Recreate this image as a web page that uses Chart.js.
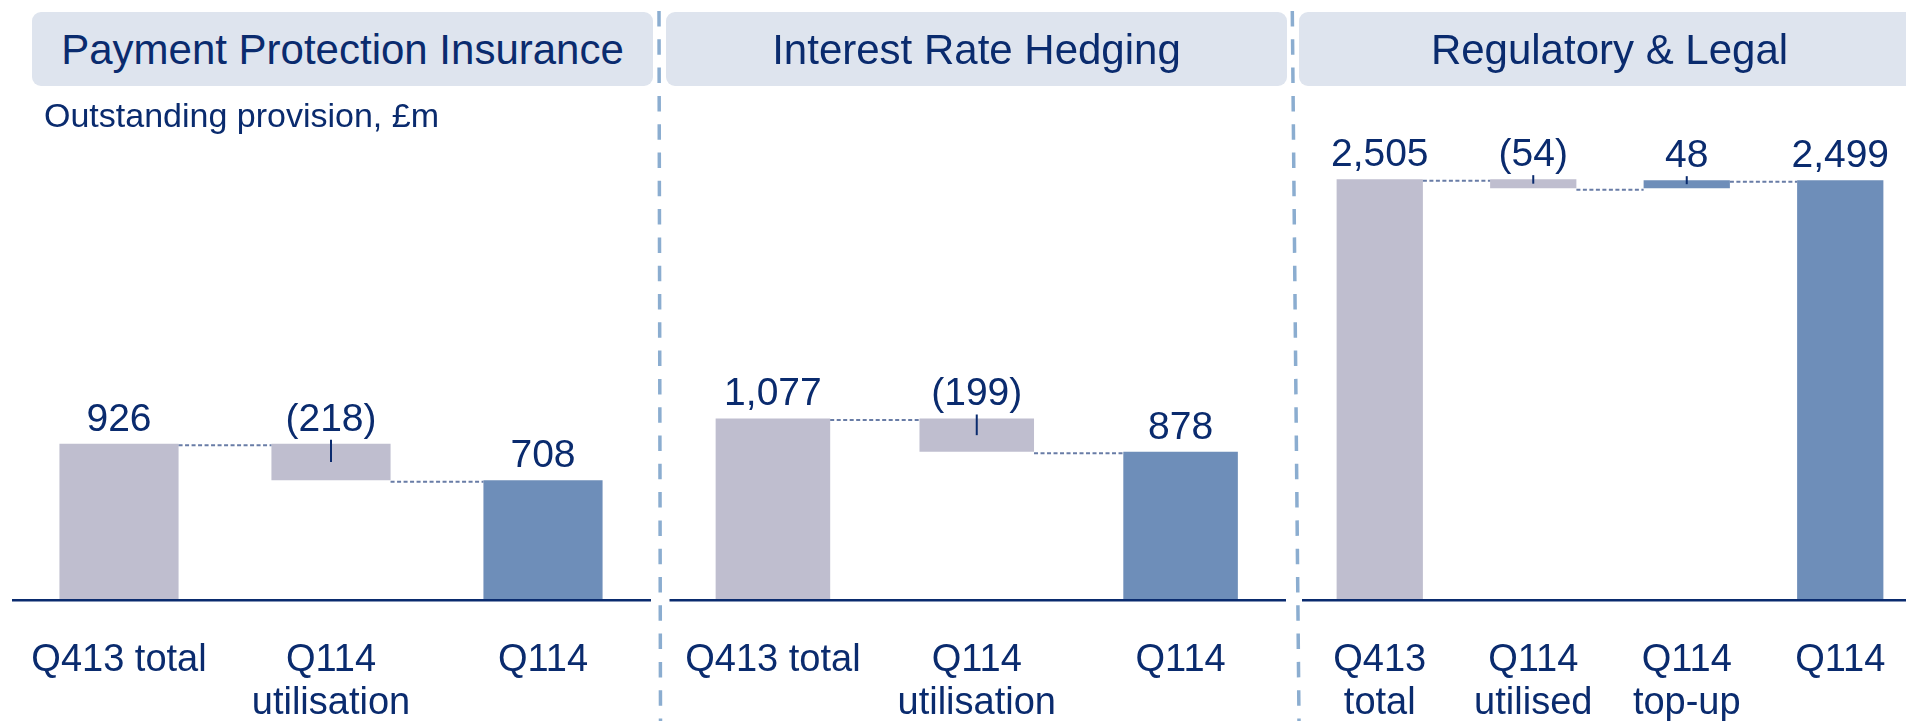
<!DOCTYPE html>
<html><head><meta charset="utf-8">
<script src="https://cdn.jsdelivr.net/npm/chart.js@4.4.1/dist/chart.umd.min.js"></script>
<style>
html,body{margin:0;padding:0;width:1906px;height:721px;overflow:hidden;background:#fff;font-family:"Liberation Sans",Arial,sans-serif;}
.hdr{position:absolute;top:12px;height:74px;width:621px;background:#dee4ee;border-radius:9px;color:#0a2b6e;font-size:42px;line-height:76px;text-align:center;white-space:nowrap;z-index:2;}
canvas{position:absolute;top:0;}
.sub{position:absolute;left:44px;top:98px;font-size:34px;line-height:34px;color:#0a2b6e;white-space:nowrap;z-index:2;}
svg.seps{position:absolute;left:0;top:0;z-index:3;pointer-events:none;}
</style></head>
<body>
<canvas id="c1"></canvas>
<canvas id="c2"></canvas>
<canvas id="c3"></canvas>
<div class="hdr" style="left:32px">Payment Protection Insurance</div>
<div class="hdr" style="left:666px">Interest Rate Hedging</div>
<div class="hdr" style="left:1299px">Regulatory &amp; Legal</div>
<div class="sub">Outstanding provision, £m</div>
<svg class="seps" width="1906" height="721" viewBox="0 0 1906 721">
  <line x1="659" y1="11" x2="660.5" y2="721" stroke="#8badd0" stroke-width="3.5" stroke-dasharray="15.5 12.8"/>
  <line x1="1292.3" y1="11" x2="1299" y2="721" stroke="#8badd0" stroke-width="3.5" stroke-dasharray="15.5 12.8"/>
</svg>
<script>
// ---- data ----
const ppiCategories = ['Q413 total', ['Q114', 'utilisation'], 'Q114'];
const ppiValues = [926, -218, 708];
const ppiKinds = ['total', 'change', 'total'];

const irhCategories = ['Q413 total', ['Q114', 'utilisation'], 'Q114'];
const irhValues = [1077, -199, 878];
const irhKinds = ['total', 'change', 'total'];

const rlCategories = [['Q413', 'total'], ['Q114', 'utilised'], ['Q114', 'top-up'], 'Q114'];
const rlValues = [2505, -54, 48, 2499];
const rlKinds = ['total', 'change', 'change', 'total'];

// ---- styles ----
const NAVY = '#0a2b6e', GREY = '#bfbecf', BLUE = '#6e8eb9', LINK = '#687ca6';
const FONT = '"Liberation Sans", Arial, sans-serif';
const Y_MAX = 3574;
const CANVAS_H = 760;

function toRanges(values, kinds) {
  let run = 0;
  return values.map((v, i) => {
    if (kinds[i] === 'total') { run = v; return [0, v]; }
    const r = [run, run + v]; run += v; return r;
  });
}
function barColor(v, k, i) {
  if (k === 'total') return i === 0 ? GREY : BLUE;
  return v < 0 ? GREY : BLUE;
}
function fmt(v, k) {
  const s = Math.abs(v).toLocaleString('en-GB');
  return (k !== 'total' && v < 0) ? '(' + s + ')' : s;
}

const decor = {
  id: 'decor',
  afterDatasetsDraw(chart, args, opts) {
    const ctx = chart.ctx, meta = chart.getDatasetMeta(0), ys = chart.scales.y, area = chart.chartArea;
    const ranges = chart.data.datasets[0].data;
    const values = opts.values, kinds = opts.kinds;
    ctx.save();
    ctx.strokeStyle = LINK; ctx.lineWidth = 2; ctx.setLineDash([4, 2.5]);
    for (let i = 0; i < meta.data.length - 1; i++) {
      const a = meta.data[i], b = meta.data[i + 1];
      const y = ys.getPixelForValue(ranges[i][1]) + 1.5;
      ctx.beginPath(); ctx.moveTo(a.x + a.width / 2, y); ctx.lineTo(b.x - b.width / 2, y); ctx.stroke();
    }
    ctx.setLineDash([]);
    ctx.strokeStyle = NAVY; ctx.lineWidth = 2.5;
    const by = area.bottom + 1.2;
    ctx.beginPath();
    ctx.moveTo(area.left + opts.axisFrom, by);
    ctx.lineTo(opts.axisTo == null ? chart.width : area.right + opts.axisTo, by);
    ctx.stroke();
    ctx.fillStyle = NAVY; ctx.font = '39px ' + FONT; ctx.textAlign = 'center'; ctx.textBaseline = 'alphabetic';
    meta.data.forEach((el, i) => {
      const top = Math.min(el.y, el.base), bot = Math.max(el.y, el.base);
      ctx.fillText(fmt(values[i], kinds[i]), el.x, top - 13);
      if (kinds[i] !== 'total') {
        ctx.lineWidth = 2; ctx.beginPath(); ctx.moveTo(el.x, top - 4); ctx.lineTo(el.x, (top + bot) / 2); ctx.stroke();
      }
    });
    ctx.restore();
  }
};

function makeChart(id, left, width, padL, padR, categories, values, kinds, axisFrom, axisTo) {
  const cv = document.getElementById(id);
  cv.width = width; cv.height = CANVAS_H; cv.style.left = left + 'px';
  cv.style.width = width + 'px'; cv.style.height = CANVAS_H + 'px';
  const ranges = toRanges(values, kinds);
  return new Chart(cv, {
    type: 'bar',
    data: {
      labels: categories,
      datasets: [{
        data: ranges,
        backgroundColor: values.map((v, i) => barColor(v, kinds[i], i)),
        borderWidth: 0, borderSkipped: false,
        barPercentage: 0.562, categoryPercentage: 1
      }]
    },
    options: {
      responsive: false, animation: false, devicePixelRatio: 1,
      layout: { padding: { left: padL, right: padR, top: 0, bottom: 0 } },
      plugins: {
        legend: { display: false }, tooltip: { enabled: false }, title: { display: false },
        decor: { values: values, kinds: kinds, axisFrom: axisFrom, axisTo: axisTo }
      },
      scales: {
        x: {
          grid: { display: false, drawTicks: true, tickLength: 40 }, border: { display: false },
          ticks: { color: NAVY, font: { family: FONT, size: 38, lineHeight: '43px' }, padding: 0, maxRotation: 0, minRotation: 0, autoSkip: false },
          afterFit: (s) => { s.height = CANVAS_H - 599; }
        },
        y: { display: false, min: 0, max: Y_MAX }
      }
    },
    plugins: [decor]
  });
}

makeChart('c1', 0, 660, 13, 11, ppiCategories, ppiValues, ppiKinds, -1, 2);
makeChart('c2', 660, 633, 11, 10.5, irhCategories, irhValues, irhKinds, -1.5, 3.5);
makeChart('c3', 1293, 642, 10, 18, rlCategories, rlValues, rlKinds, -1, null);
</script>
</body></html>
